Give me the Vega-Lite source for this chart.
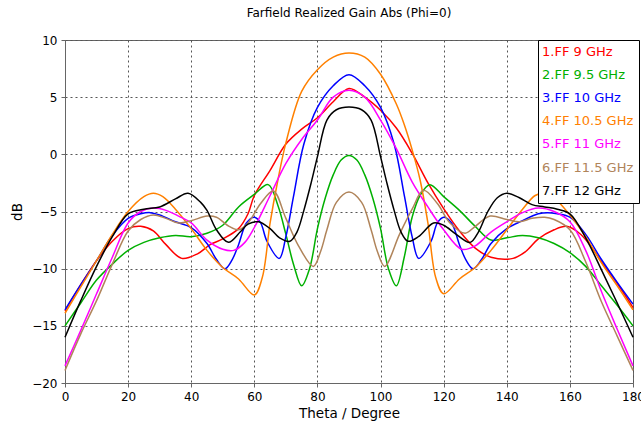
{
  "$schema": "https://vega.github.io/schema/vega-lite/v6.json",
  "width": 568,
  "height": 343,
  "autosize": {"type": "none"},
  "padding": {"left": 65, "top": 40, "right": 8, "bottom": 47},
  "background": "white",
  "title": {"text": "Farfield Realized Gain Abs (Phi=0)", "font": "DejaVu Sans", "fontSize": 12, "fontWeight": "normal", "color": "black", "anchor": "middle", "offset": 14},
  "config": {
    "view": {"stroke": "#666", "strokeWidth": 1},
    "axis": {"labelFont": "DejaVu Sans", "labelFontSize": 12, "labelColor": "black", "titleFont": "DejaVu Sans", "titleFontSize": 13.5, "titleFontWeight": "normal", "titleColor": "black", "gridColor": "#555", "gridDash": [2, 3], "gridWidth": 1, "gridOpacity": 1, "domainColor": "#666", "tickColor": "#666", "tickSize": 4}
  },
  "data": {"values": [
    {"f":"1.FF 9 GHz","t":0,"g":-13.7},{"f":"1.FF 9 GHz","t":5,"g":-11.4},{"f":"1.FF 9 GHz","t":10,"g":-9.3},{"f":"1.FF 9 GHz","t":15,"g":-7.6},{"f":"1.FF 9 GHz","t":20,"g":-6.5},{"f":"1.FF 9 GHz","t":24,"g":-6.3},{"f":"1.FF 9 GHz","t":28,"g":-6.7},{"f":"1.FF 9 GHz","t":32,"g":-7.9},{"f":"1.FF 9 GHz","t":37,"g":-9.1},{"f":"1.FF 9 GHz","t":42,"g":-8.7},{"f":"1.FF 9 GHz","t":46,"g":-7.9},{"f":"1.FF 9 GHz","t":50,"g":-7.4},{"f":"1.FF 9 GHz","t":55,"g":-6.5},{"f":"1.FF 9 GHz","t":58,"g":-5.2},{"f":"1.FF 9 GHz","t":60,"g":-3.6},{"f":"1.FF 9 GHz","t":65,"g":-1.4},{"f":"1.FF 9 GHz","t":70,"g":0.9},{"f":"1.FF 9 GHz","t":75,"g":2.2},{"f":"1.FF 9 GHz","t":80,"g":3.2},{"f":"1.FF 9 GHz","t":85,"g":4.6},{"f":"1.FF 9 GHz","t":90,"g":5.75},{"f":"1.FF 9 GHz","t":95,"g":5.0},{"f":"1.FF 9 GHz","t":100,"g":3.85},{"f":"1.FF 9 GHz","t":105,"g":2.3},{"f":"1.FF 9 GHz","t":110,"g":0.1},{"f":"1.FF 9 GHz","t":115,"g":-2.5},{"f":"1.FF 9 GHz","t":120,"g":-4.75},{"f":"1.FF 9 GHz","t":125,"g":-6.7},{"f":"1.FF 9 GHz","t":130,"g":-8.2},{"f":"1.FF 9 GHz","t":135,"g":-9.0},{"f":"1.FF 9 GHz","t":142,"g":-9.1},{"f":"1.FF 9 GHz","t":146,"g":-8.5},{"f":"1.FF 9 GHz","t":150,"g":-7.4},{"f":"1.FF 9 GHz","t":155,"g":-6.6},{"f":"1.FF 9 GHz","t":159,"g":-6.3},{"f":"1.FF 9 GHz","t":163,"g":-6.9},{"f":"1.FF 9 GHz","t":166,"g":-7.8},{"f":"1.FF 9 GHz","t":170,"g":-9.4},{"f":"1.FF 9 GHz","t":175,"g":-11.3},{"f":"1.FF 9 GHz","t":180,"g":-13.4},

    {"f":"2.FF 9.5 GHz","t":0,"g":-15.0},{"f":"2.FF 9.5 GHz","t":5,"g":-13.0},{"f":"2.FF 9.5 GHz","t":10,"g":-11.0},{"f":"2.FF 9.5 GHz","t":15,"g":-9.6},{"f":"2.FF 9.5 GHz","t":20,"g":-8.4},{"f":"2.FF 9.5 GHz","t":25,"g":-7.7},{"f":"2.FF 9.5 GHz","t":30,"g":-7.3},{"f":"2.FF 9.5 GHz","t":35,"g":-7.1},{"f":"2.FF 9.5 GHz","t":40,"g":-7.2},{"f":"2.FF 9.5 GHz","t":45,"g":-6.9},{"f":"2.FF 9.5 GHz","t":50,"g":-6.2},{"f":"2.FF 9.5 GHz","t":55,"g":-4.6},{"f":"2.FF 9.5 GHz","t":60,"g":-3.5},{"f":"2.FF 9.5 GHz","t":64.4,"g":-2.65},{"f":"2.FF 9.5 GHz","t":67.5,"g":-4.5},{"f":"2.FF 9.5 GHz","t":70,"g":-7.0},{"f":"2.FF 9.5 GHz","t":72.5,"g":-9.7},{"f":"2.FF 9.5 GHz","t":75,"g":-11.5},{"f":"2.FF 9.5 GHz","t":77.5,"g":-10.0},{"f":"2.FF 9.5 GHz","t":80,"g":-6.5},{"f":"2.FF 9.5 GHz","t":82.5,"g":-3.8},{"f":"2.FF 9.5 GHz","t":85,"g":-1.8},{"f":"2.FF 9.5 GHz","t":87.5,"g":-0.5},{"f":"2.FF 9.5 GHz","t":90,"g":-0.1},{"f":"2.FF 9.5 GHz","t":92.5,"g":-0.5},{"f":"2.FF 9.5 GHz","t":95,"g":-1.8},{"f":"2.FF 9.5 GHz","t":97.5,"g":-3.8},{"f":"2.FF 9.5 GHz","t":100,"g":-6.5},{"f":"2.FF 9.5 GHz","t":102.5,"g":-10.0},{"f":"2.FF 9.5 GHz","t":105,"g":-11.5},{"f":"2.FF 9.5 GHz","t":107.5,"g":-9.0},{"f":"2.FF 9.5 GHz","t":110,"g":-5.5},{"f":"2.FF 9.5 GHz","t":112.5,"g":-3.6},{"f":"2.FF 9.5 GHz","t":115.6,"g":-2.65},{"f":"2.FF 9.5 GHz","t":120,"g":-3.7},{"f":"2.FF 9.5 GHz","t":125,"g":-4.9},{"f":"2.FF 9.5 GHz","t":130,"g":-6.3},{"f":"2.FF 9.5 GHz","t":135,"g":-7.5},{"f":"2.FF 9.5 GHz","t":140,"g":-7.3},{"f":"2.FF 9.5 GHz","t":145,"g":-7.1},{"f":"2.FF 9.5 GHz","t":150,"g":-7.3},{"f":"2.FF 9.5 GHz","t":155,"g":-7.8},{"f":"2.FF 9.5 GHz","t":160,"g":-8.6},{"f":"2.FF 9.5 GHz","t":165,"g":-9.8},{"f":"2.FF 9.5 GHz","t":170,"g":-11.5},{"f":"2.FF 9.5 GHz","t":175,"g":-13.2},{"f":"2.FF 9.5 GHz","t":180,"g":-15.0},

    {"f":"3.FF 10 GHz","t":0,"g":-13.6},{"f":"3.FF 10 GHz","t":5,"g":-11.4},{"f":"3.FF 10 GHz","t":10,"g":-9.3},{"f":"3.FF 10 GHz","t":15,"g":-7.1},{"f":"3.FF 10 GHz","t":20,"g":-5.6},{"f":"3.FF 10 GHz","t":24,"g":-5.2},{"f":"3.FF 10 GHz","t":27,"g":-5.1},{"f":"3.FF 10 GHz","t":30,"g":-5.3},{"f":"3.FF 10 GHz","t":35,"g":-5.9},{"f":"3.FF 10 GHz","t":40,"g":-6.4},{"f":"3.FF 10 GHz","t":45,"g":-7.8},{"f":"3.FF 10 GHz","t":48,"g":-9.2},{"f":"3.FF 10 GHz","t":50.7,"g":-10.0},{"f":"3.FF 10 GHz","t":53,"g":-9.2},{"f":"3.FF 10 GHz","t":55,"g":-7.9},{"f":"3.FF 10 GHz","t":57.5,"g":-6.0},{"f":"3.FF 10 GHz","t":60,"g":-5.5},{"f":"3.FF 10 GHz","t":62,"g":-6.0},{"f":"3.FF 10 GHz","t":64,"g":-7.6},{"f":"3.FF 10 GHz","t":67.9,"g":-9.1},{"f":"3.FF 10 GHz","t":70,"g":-7.2},{"f":"3.FF 10 GHz","t":72.4,"g":-3.7},{"f":"3.FF 10 GHz","t":75.7,"g":0.9},{"f":"3.FF 10 GHz","t":80,"g":4.1},{"f":"3.FF 10 GHz","t":85,"g":6.0},{"f":"3.FF 10 GHz","t":90,"g":6.97},{"f":"3.FF 10 GHz","t":95,"g":6.0},{"f":"3.FF 10 GHz","t":100,"g":4.1},{"f":"3.FF 10 GHz","t":104.3,"g":0.9},{"f":"3.FF 10 GHz","t":107.6,"g":-3.7},{"f":"3.FF 10 GHz","t":110,"g":-7.2},{"f":"3.FF 10 GHz","t":112.1,"g":-9.1},{"f":"3.FF 10 GHz","t":116,"g":-7.6},{"f":"3.FF 10 GHz","t":118,"g":-6.0},{"f":"3.FF 10 GHz","t":120,"g":-5.5},{"f":"3.FF 10 GHz","t":122.5,"g":-6.0},{"f":"3.FF 10 GHz","t":125,"g":-7.9},{"f":"3.FF 10 GHz","t":127,"g":-9.2},{"f":"3.FF 10 GHz","t":129.3,"g":-10.0},{"f":"3.FF 10 GHz","t":132,"g":-9.2},{"f":"3.FF 10 GHz","t":135,"g":-7.8},{"f":"3.FF 10 GHz","t":140,"g":-6.5},{"f":"3.FF 10 GHz","t":145,"g":-5.8},{"f":"3.FF 10 GHz","t":150,"g":-5.2},{"f":"3.FF 10 GHz","t":153,"g":-5.1},{"f":"3.FF 10 GHz","t":156,"g":-5.2},{"f":"3.FF 10 GHz","t":160,"g":-5.5},{"f":"3.FF 10 GHz","t":165,"g":-7.0},{"f":"3.FF 10 GHz","t":170,"g":-9.2},{"f":"3.FF 10 GHz","t":175,"g":-11.2},{"f":"3.FF 10 GHz","t":180,"g":-13.1},

    {"f":"4.FF 10.5 GHz","t":0,"g":-13.9},{"f":"4.FF 10.5 GHz","t":5,"g":-11.6},{"f":"4.FF 10.5 GHz","t":10,"g":-9.3},{"f":"4.FF 10.5 GHz","t":15,"g":-7.0},{"f":"4.FF 10.5 GHz","t":20,"g":-5.0},{"f":"4.FF 10.5 GHz","t":25,"g":-3.7},{"f":"4.FF 10.5 GHz","t":28,"g":-3.4},{"f":"4.FF 10.5 GHz","t":31,"g":-3.7},{"f":"4.FF 10.5 GHz","t":35,"g":-4.8},{"f":"4.FF 10.5 GHz","t":40,"g":-6.5},{"f":"4.FF 10.5 GHz","t":45,"g":-8.4},{"f":"4.FF 10.5 GHz","t":50,"g":-9.9},{"f":"4.FF 10.5 GHz","t":55,"g":-10.9},{"f":"4.FF 10.5 GHz","t":60,"g":-12.3},{"f":"4.FF 10.5 GHz","t":62.5,"g":-10.8},{"f":"4.FF 10.5 GHz","t":65,"g":-6.0},{"f":"4.FF 10.5 GHz","t":67.5,"g":-2.2},{"f":"4.FF 10.5 GHz","t":70,"g":1.0},{"f":"4.FF 10.5 GHz","t":75,"g":5.5},{"f":"4.FF 10.5 GHz","t":80,"g":7.4},{"f":"4.FF 10.5 GHz","t":85,"g":8.5},{"f":"4.FF 10.5 GHz","t":90,"g":8.86},{"f":"4.FF 10.5 GHz","t":95,"g":8.5},{"f":"4.FF 10.5 GHz","t":100,"g":7.0},{"f":"4.FF 10.5 GHz","t":105,"g":4.4},{"f":"4.FF 10.5 GHz","t":107.5,"g":2.6},{"f":"4.FF 10.5 GHz","t":110,"g":0.4},{"f":"4.FF 10.5 GHz","t":112.5,"g":-2.2},{"f":"4.FF 10.5 GHz","t":115,"g":-6.0},{"f":"4.FF 10.5 GHz","t":117.5,"g":-10.8},{"f":"4.FF 10.5 GHz","t":120,"g":-12.2},{"f":"4.FF 10.5 GHz","t":125,"g":-10.9},{"f":"4.FF 10.5 GHz","t":130,"g":-9.9},{"f":"4.FF 10.5 GHz","t":135,"g":-8.4},{"f":"4.FF 10.5 GHz","t":140,"g":-6.6},{"f":"4.FF 10.5 GHz","t":145,"g":-4.8},{"f":"4.FF 10.5 GHz","t":149,"g":-3.6},{"f":"4.FF 10.5 GHz","t":152,"g":-3.4},{"f":"4.FF 10.5 GHz","t":155,"g":-3.8},{"f":"4.FF 10.5 GHz","t":160,"g":-5.3},{"f":"4.FF 10.5 GHz","t":165,"g":-7.2},{"f":"4.FF 10.5 GHz","t":170,"g":-9.5},{"f":"4.FF 10.5 GHz","t":175,"g":-11.5},{"f":"4.FF 10.5 GHz","t":180,"g":-13.6},

    {"f":"5.FF 11 GHz","t":0,"g":-18.5},{"f":"5.FF 11 GHz","t":5,"g":-15.4},{"f":"5.FF 11 GHz","t":10,"g":-12.2},{"f":"5.FF 11 GHz","t":15,"g":-9.0},{"f":"5.FF 11 GHz","t":20,"g":-6.0},{"f":"5.FF 11 GHz","t":24,"g":-5.0},{"f":"5.FF 11 GHz","t":28,"g":-4.7},{"f":"5.FF 11 GHz","t":32,"g":-4.9},{"f":"5.FF 11 GHz","t":36,"g":-5.4},{"f":"5.FF 11 GHz","t":40,"g":-6.0},{"f":"5.FF 11 GHz","t":45,"g":-7.5},{"f":"5.FF 11 GHz","t":50,"g":-8.3},{"f":"5.FF 11 GHz","t":53.5,"g":-8.4},{"f":"5.FF 11 GHz","t":57,"g":-7.7},{"f":"5.FF 11 GHz","t":60,"g":-6.4},{"f":"5.FF 11 GHz","t":65,"g":-3.6},{"f":"5.FF 11 GHz","t":70,"g":-0.8},{"f":"5.FF 11 GHz","t":75,"g":1.3},{"f":"5.FF 11 GHz","t":80,"g":3.0},{"f":"5.FF 11 GHz","t":85,"g":5.0},{"f":"5.FF 11 GHz","t":90,"g":5.6},{"f":"5.FF 11 GHz","t":95,"g":5.0},{"f":"5.FF 11 GHz","t":100,"g":3.0},{"f":"5.FF 11 GHz","t":105,"g":0.5},{"f":"5.FF 11 GHz","t":110,"g":-2.4},{"f":"5.FF 11 GHz","t":115,"g":-4.6},{"f":"5.FF 11 GHz","t":120,"g":-6.6},{"f":"5.FF 11 GHz","t":125.7,"g":-8.3},{"f":"5.FF 11 GHz","t":130,"g":-8.0},{"f":"5.FF 11 GHz","t":135,"g":-6.8},{"f":"5.FF 11 GHz","t":140,"g":-5.9},{"f":"5.FF 11 GHz","t":145,"g":-5.1},{"f":"5.FF 11 GHz","t":150,"g":-4.7},{"f":"5.FF 11 GHz","t":155,"g":-5.0},{"f":"5.FF 11 GHz","t":160,"g":-5.9},{"f":"5.FF 11 GHz","t":165,"g":-8.4},{"f":"5.FF 11 GHz","t":170,"g":-12.0},{"f":"5.FF 11 GHz","t":175,"g":-15.3},{"f":"5.FF 11 GHz","t":180,"g":-18.5},

    {"f":"6.FF 11.5 GHz","t":0,"g":-18.9},{"f":"6.FF 11.5 GHz","t":5,"g":-15.7},{"f":"6.FF 11.5 GHz","t":10,"g":-12.8},{"f":"6.FF 11.5 GHz","t":15,"g":-9.6},{"f":"6.FF 11.5 GHz","t":20,"g":-6.7},{"f":"6.FF 11.5 GHz","t":24,"g":-5.7},{"f":"6.FF 11.5 GHz","t":28,"g":-5.3},{"f":"6.FF 11.5 GHz","t":32,"g":-5.6},{"f":"6.FF 11.5 GHz","t":36,"g":-6.0},{"f":"6.FF 11.5 GHz","t":40,"g":-5.8},{"f":"6.FF 11.5 GHz","t":45,"g":-5.4},{"f":"6.FF 11.5 GHz","t":48,"g":-5.5},{"f":"6.FF 11.5 GHz","t":52,"g":-6.3},{"f":"6.FF 11.5 GHz","t":55,"g":-6.6},{"f":"6.FF 11.5 GHz","t":58,"g":-6.0},{"f":"6.FF 11.5 GHz","t":62,"g":-4.3},{"f":"6.FF 11.5 GHz","t":66,"g":-3.2},{"f":"6.FF 11.5 GHz","t":70,"g":-5.6},{"f":"6.FF 11.5 GHz","t":74,"g":-8.0},{"f":"6.FF 11.5 GHz","t":78.7,"g":-9.8},{"f":"6.FF 11.5 GHz","t":81,"g":-8.5},{"f":"6.FF 11.5 GHz","t":83,"g":-6.6},{"f":"6.FF 11.5 GHz","t":86,"g":-4.2},{"f":"6.FF 11.5 GHz","t":90,"g":-3.3},{"f":"6.FF 11.5 GHz","t":94,"g":-4.2},{"f":"6.FF 11.5 GHz","t":97,"g":-6.6},{"f":"6.FF 11.5 GHz","t":99,"g":-8.5},{"f":"6.FF 11.5 GHz","t":101.3,"g":-9.8},{"f":"6.FF 11.5 GHz","t":106,"g":-7.0},{"f":"6.FF 11.5 GHz","t":110,"g":-4.8},{"f":"6.FF 11.5 GHz","t":113.6,"g":-3.15},{"f":"6.FF 11.5 GHz","t":118,"g":-4.3},{"f":"6.FF 11.5 GHz","t":122,"g":-6.0},{"f":"6.FF 11.5 GHz","t":126.8,"g":-6.9},{"f":"6.FF 11.5 GHz","t":130,"g":-6.3},{"f":"6.FF 11.5 GHz","t":134.7,"g":-5.4},{"f":"6.FF 11.5 GHz","t":140,"g":-5.7},{"f":"6.FF 11.5 GHz","t":144,"g":-5.9},{"f":"6.FF 11.5 GHz","t":148,"g":-5.6},{"f":"6.FF 11.5 GHz","t":152,"g":-5.5},{"f":"6.FF 11.5 GHz","t":155,"g":-5.7},{"f":"6.FF 11.5 GHz","t":160,"g":-6.6},{"f":"6.FF 11.5 GHz","t":165,"g":-9.4},{"f":"6.FF 11.5 GHz","t":170,"g":-12.9},{"f":"6.FF 11.5 GHz","t":175,"g":-15.9},{"f":"6.FF 11.5 GHz","t":180,"g":-18.9},

    {"f":"7.FF 12 GHz","t":0,"g":-16.0},{"f":"7.FF 12 GHz","t":5,"g":-12.8},{"f":"7.FF 12 GHz","t":10,"g":-9.8},{"f":"7.FF 12 GHz","t":15,"g":-7.2},{"f":"7.FF 12 GHz","t":20,"g":-5.2},{"f":"7.FF 12 GHz","t":25,"g":-4.8},{"f":"7.FF 12 GHz","t":30,"g":-4.6},{"f":"7.FF 12 GHz","t":35,"g":-3.9},{"f":"7.FF 12 GHz","t":39,"g":-3.4},{"f":"7.FF 12 GHz","t":43,"g":-4.2},{"f":"7.FF 12 GHz","t":45,"g":-4.9},{"f":"7.FF 12 GHz","t":48,"g":-6.6},{"f":"7.FF 12 GHz","t":51.8,"g":-7.7},{"f":"7.FF 12 GHz","t":55.5,"g":-6.8},{"f":"7.FF 12 GHz","t":58,"g":-6.1},{"f":"7.FF 12 GHz","t":61.3,"g":-5.9},{"f":"7.FF 12 GHz","t":65,"g":-6.5},{"f":"7.FF 12 GHz","t":68,"g":-7.3},{"f":"7.FF 12 GHz","t":71.3,"g":-7.6},{"f":"7.FF 12 GHz","t":73.5,"g":-6.8},{"f":"7.FF 12 GHz","t":75.7,"g":-4.9},{"f":"7.FF 12 GHz","t":78,"g":-2.5},{"f":"7.FF 12 GHz","t":80,"g":-0.2},{"f":"7.FF 12 GHz","t":83,"g":3.0},{"f":"7.FF 12 GHz","t":86,"g":3.9},{"f":"7.FF 12 GHz","t":90,"g":4.14},{"f":"7.FF 12 GHz","t":94,"g":3.9},{"f":"7.FF 12 GHz","t":97,"g":3.0},{"f":"7.FF 12 GHz","t":100,"g":-0.2},{"f":"7.FF 12 GHz","t":102,"g":-2.5},{"f":"7.FF 12 GHz","t":104.3,"g":-4.9},{"f":"7.FF 12 GHz","t":106.5,"g":-6.8},{"f":"7.FF 12 GHz","t":108.7,"g":-7.6},{"f":"7.FF 12 GHz","t":112,"g":-7.2},{"f":"7.FF 12 GHz","t":116.8,"g":-6.0},{"f":"7.FF 12 GHz","t":120,"g":-6.2},{"f":"7.FF 12 GHz","t":124,"g":-7.0},{"f":"7.FF 12 GHz","t":128.4,"g":-7.7},{"f":"7.FF 12 GHz","t":131,"g":-6.8},{"f":"7.FF 12 GHz","t":134,"g":-5.0},{"f":"7.FF 12 GHz","t":137,"g":-3.8},{"f":"7.FF 12 GHz","t":140,"g":-3.4},{"f":"7.FF 12 GHz","t":144,"g":-3.8},{"f":"7.FF 12 GHz","t":148,"g":-4.4},{"f":"7.FF 12 GHz","t":152,"g":-4.6},{"f":"7.FF 12 GHz","t":156,"g":-4.8},{"f":"7.FF 12 GHz","t":160,"g":-5.2},{"f":"7.FF 12 GHz","t":165,"g":-7.3},{"f":"7.FF 12 GHz","t":170,"g":-10.1},{"f":"7.FF 12 GHz","t":175,"g":-13.0},{"f":"7.FF 12 GHz","t":180,"g":-16.0}
  ]},
  "mark": {"type": "line", "interpolate": "catmull-rom", "strokeWidth": 1.5},
  "encoding": {
    "x": {"field": "t", "type": "quantitative", "scale": {"domain": [0, 180], "nice": false, "zero": false},
      "axis": {"values": [0, 20, 40, 60, 80, 100, 120, 140, 160, 180], "title": "Theta / Degree", "labelPadding": 4, "titlePadding": 4, "labelFlush": false}},
    "y": {"field": "g", "type": "quantitative", "scale": {"domain": [-20, 10], "nice": false, "zero": false},
      "axis": {"values": [-20, -15, -10, -5, 0, 5, 10], "title": "dB", "labelPadding": 4, "titlePadding": 7}},
    "color": {"field": "f", "type": "nominal",
      "scale": {"domain": ["1.FF 9 GHz", "2.FF 9.5 GHz", "3.FF 10 GHz", "4.FF 10.5 GHz", "5.FF 11 GHz", "6.FF 11.5 GHz", "7.FF 12 GHz"],
        "range": ["#ff0000", "#00b000", "#0000ff", "#ff8000", "#ff00ff", "#b0845a", "#000000"]},
      "legend": {"orient": "none", "legendX": 473, "legendY": 0, "title": null, "symbolType": "circle", "symbolSize": 1, "symbolStrokeWidth": 0, "symbolOpacity": 0, "labelOffset": 0, "labelAlign": "left", "gridAlign": "all", "columns": 1,
        "labelFont": "DejaVu Sans", "labelFontSize": 13, "rowPadding": 9.2, "padding": 5, "strokeColor": "black", "fillColor": "white",
        "encode": {"labels": {"update": {"fill": {"scale": "color", "field": "value"}, "align": {"value": "left"}, "x": {"value": -1}}}}}}
  }
}
